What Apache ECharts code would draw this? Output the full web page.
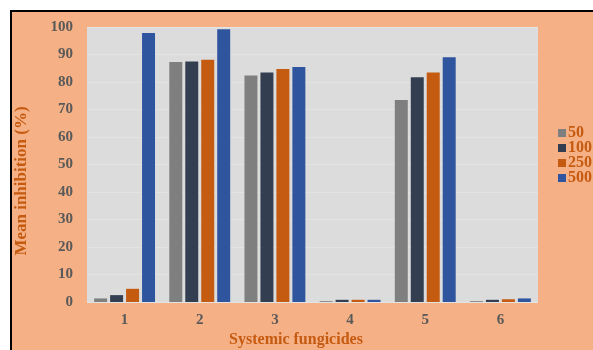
<!DOCTYPE html>
<html>
<head>
<meta charset="utf-8">
<script src="https://cdn.jsdelivr.net/npm/echarts@6/dist/echarts.min.js"></script>
<style>
html,body{margin:0;padding:0;background:#fff;width:593px;height:350px;overflow:hidden;}
#frame{position:absolute;left:10px;top:10px;width:583px;height:340px;background:#F5B185;border-top:2px solid #000;border-left:2px solid #000;box-sizing:border-box;}
#chart{position:absolute;left:0;top:0;width:593px;height:350px;}
</style>
</head>
<body>
<div id="frame"></div>
<div id="chart"></div>
<script>
var categories = ['1', '2', '3', '4', '5', '6'];
var seriesNames = ['50', '100', '250', '500'];
var s50 = [1.3, 87.3, 82.4, 0.3, 73.5, 0.3];
var s100 = [2.5, 87.5, 83.5, 0.8, 81.7, 0.8];
var s250 = [4.8, 88.1, 84.7, 0.8, 83.5, 1.0];
var s500 = [97.8, 99.2, 85.5, 0.8, 89.0, 1.3];
var colors = ['#7F7F7F', '#333F50', '#C55A11', '#2F559F'];
var yTitle = 'Mean inhibition (%)';
var xTitle = 'Systemic fungicides';

var chart = echarts.init(document.getElementById('chart'), null, {renderer: 'canvas'});
var serif = 'Liberation Serif';
var dataSets = [s50, s100, s250, s500];
var series = seriesNames.map(function (n, i) {
  return {
    name: n, type: 'bar', data: dataSets[i],
    barGap: '23%', barCategoryGap: '19%',
    itemStyle: {color: colors[i]}
  };
});
chart.setOption({
  backgroundColor: 'transparent',
  animation: false,
  color: colors,
  grid: {left: 87, right: 55, top: 27, bottom: 48, show: true, backgroundColor: '#DCDCDC', borderWidth: 0},
  xAxis: {
    type: 'category', data: categories,
    axisLine: {show: false}, axisTick: {show: false},
    axisLabel: {color: '#595959', fontFamily: serif, fontWeight: 'bold', fontSize: 15, margin: 11}
  },
  yAxis: {
    type: 'value', min: 0, max: 100, interval: 10,
    axisLine: {show: false}, axisTick: {show: false},
    splitLine: {lineStyle: {color: '#E3E3E3', width: 1}},
    axisLabel: {color: '#595959', fontFamily: serif, fontWeight: 'bold', fontSize: 15, margin: 14}
  },
  legend: {
    orient: 'vertical', left: 553, top: 120,
    itemWidth: 8, itemHeight: 8, itemGap: -1,
    icon: 'rect',
    textStyle: {color: '#C55A11', fontFamily: serif, fontWeight: 'bold', fontSize: 16, padding: [0, 0, 0, -3]},
    data: seriesNames
  },
  graphic: [
    {type: 'text', x: 296, y: 340, style: {text: xTitle, fill: '#C55A11', font: 'bold 16px "Liberation Serif"', textAlign: 'center', textVerticalAlign: 'middle'}},
    {type: 'text', x: 22, y: 181, rotation: Math.PI / 2, style: {text: yTitle, fill: '#C55A11', font: 'bold 17px "Liberation Serif"', textAlign: 'center', textVerticalAlign: 'middle'}}
  ],
  series: series
});
</script>
</body>
</html>
